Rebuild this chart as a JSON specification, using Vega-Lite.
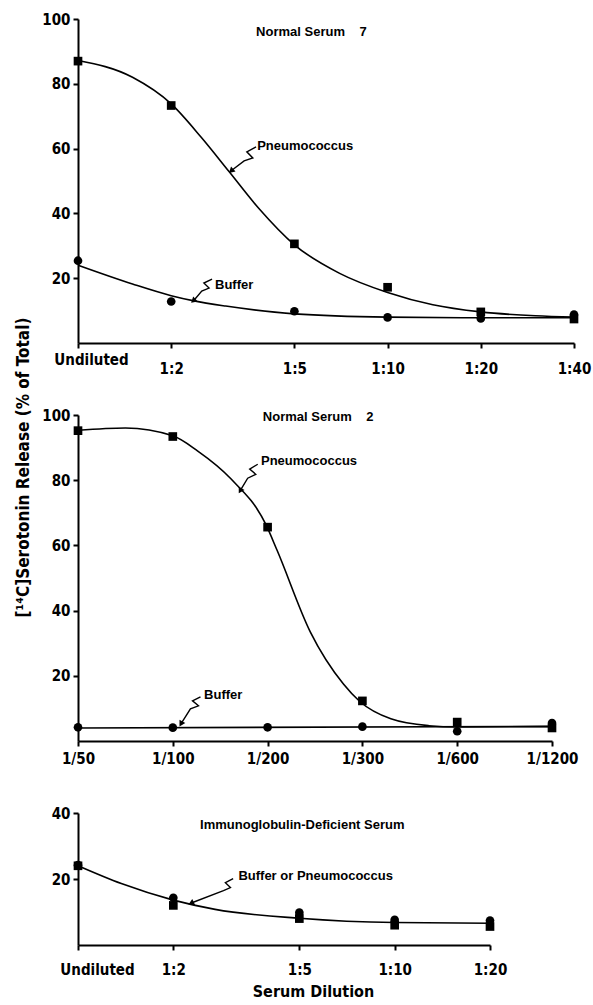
{
  "$schema": "https://vega.github.io/schema/vega-lite/v6.json",
  "padding": {"top": 12, "left": 13, "right": 5, "bottom": 3},
  "background": "white",
  "bounds": "flush",
  "spacing": 72,
  "config": {
    "view": {"stroke": null},
    "axis": {
      "domainColor": "black", "domainWidth": 2, "tickColor": "black", "tickWidth": 2, "tickSize": 5,
      "labelColor": "black", "labelFont": "DejaVu Sans Condensed, Liberation Sans Narrow, Liberation Sans", "labelFontWeight": "bold", "labelFontSize": 15,
      "labelOverlap": false, "labelFlush": false,
      "grid": false, "titleFont": "DejaVu Sans Condensed, Liberation Sans Narrow, Liberation Sans", "titleFontWeight": "bold", "titleColor": "black", "titleFontSize": 16
    }
  },
  "datasets": {
    "p1_points": [
      {"dilution": 1, "release": 87, "series": "Pneumococcus"},
      {"dilution": 2, "release": 73.3, "series": "Pneumococcus"},
      {"dilution": 5, "release": 30.6, "series": "Pneumococcus"},
      {"dilution": 10, "release": 17.2, "series": "Pneumococcus"},
      {"dilution": 20, "release": 9.6, "series": "Pneumococcus"},
      {"dilution": 40, "release": 7.4, "series": "Pneumococcus"},
      {"dilution": 1, "release": 25.4, "series": "Buffer"},
      {"dilution": 2, "release": 12.8, "series": "Buffer"},
      {"dilution": 5, "release": 9.8, "series": "Buffer"},
      {"dilution": 10, "release": 7.9, "series": "Buffer"},
      {"dilution": 20, "release": 7.6, "series": "Buffer"},
      {"dilution": 40, "release": 8.8, "series": "Buffer"}
    ],
    "p1_curves": [
      {"dilution": 1, "release": 87.2, "series": "Pneumococcus"},
      {"dilution": 1.5, "release": 82, "series": "Pneumococcus"},
      {"dilution": 2, "release": 73.8, "series": "Pneumococcus"},
      {"dilution": 2.5, "release": 63.5, "series": "Pneumococcus"},
      {"dilution": 3.07, "release": 53, "series": "Pneumococcus"},
      {"dilution": 3.84, "release": 41.5, "series": "Pneumococcus"},
      {"dilution": 5, "release": 30.3, "series": "Pneumococcus"},
      {"dilution": 7, "release": 21.5, "series": "Pneumococcus"},
      {"dilution": 10, "release": 15.6, "series": "Pneumococcus"},
      {"dilution": 14, "release": 11.8, "series": "Pneumococcus"},
      {"dilution": 20, "release": 9.6, "series": "Pneumococcus"},
      {"dilution": 30, "release": 8.4, "series": "Pneumococcus"},
      {"dilution": 40, "release": 8, "series": "Pneumococcus"},
      {"dilution": 1, "release": 24, "series": "Buffer"},
      {"dilution": 1.5, "release": 18.2, "series": "Buffer"},
      {"dilution": 2, "release": 14.6, "series": "Buffer"},
      {"dilution": 2.37, "release": 13, "series": "Buffer"},
      {"dilution": 3, "release": 11.4, "series": "Buffer"},
      {"dilution": 5, "release": 9, "series": "Buffer"},
      {"dilution": 10, "release": 8, "series": "Buffer"},
      {"dilution": 20, "release": 7.8, "series": "Buffer"},
      {"dilution": 40, "release": 7.8, "series": "Buffer"}
    ],
    "p1_labels": [
      {"dilution": 3.76, "release": 96, "label": "Normal Serum\u00a0\u00a0\u00a0\u00a07"},
      {"dilution": 3.79, "release": 60.8, "label": "Pneumococcus"},
      {"dilution": 2.77, "release": 17.8, "label": "Buffer"}
    ],
    "p1_arrows": [
      {"dilution": 3.76, "release": 60.5, "arrow": "a1", "order": 1},
      {"dilution": 3.51, "release": 59.0, "arrow": "a1", "order": 2},
      {"dilution": 3.67, "release": 57.1, "arrow": "a1", "order": 3},
      {"dilution": 3.44, "release": 56.2, "arrow": "a1", "order": 4},
      {"dilution": 3.14, "release": 53.3, "arrow": "a1", "order": 5},
      {"dilution": 2.71, "release": 19.75, "arrow": "a2", "order": 1},
      {"dilution": 2.55, "release": 18.5, "arrow": "a2", "order": 2},
      {"dilution": 2.65, "release": 16.96, "arrow": "a2", "order": 3},
      {"dilution": 2.51, "release": 16.0, "arrow": "a2", "order": 4},
      {"dilution": 2.37, "release": 13.2, "arrow": "a2", "order": 5}
    ],
    "p2_points": [
      {"dilution_step": 1, "release": 95.2, "series": "Pneumococcus"},
      {"dilution_step": 2, "release": 93.4, "series": "Pneumococcus"},
      {"dilution_step": 3, "release": 65.6, "series": "Pneumococcus"},
      {"dilution_step": 4, "release": 12.3, "series": "Pneumococcus"},
      {"dilution_step": 5, "release": 5.8, "series": "Pneumococcus"},
      {"dilution_step": 6, "release": 4, "series": "Pneumococcus"},
      {"dilution_step": 1, "release": 4.2, "series": "Buffer"},
      {"dilution_step": 2, "release": 4.1, "series": "Buffer"},
      {"dilution_step": 3, "release": 4.2, "series": "Buffer"},
      {"dilution_step": 4, "release": 4.4, "series": "Buffer"},
      {"dilution_step": 5, "release": 3, "series": "Buffer"},
      {"dilution_step": 6, "release": 5.5, "series": "Buffer"}
    ],
    "p2_curves": [
      {"dilution_step": 1, "release": 95.3, "series": "Pneumococcus"},
      {"dilution_step": 1.5, "release": 96, "series": "Pneumococcus"},
      {"dilution_step": 2, "release": 93.6, "series": "Pneumococcus"},
      {"dilution_step": 2.26, "release": 89, "series": "Pneumococcus"},
      {"dilution_step": 2.61, "release": 80.5, "series": "Pneumococcus"},
      {"dilution_step": 2.98, "release": 66.5, "series": "Pneumococcus"},
      {"dilution_step": 3.1, "release": 58.5, "series": "Pneumococcus"},
      {"dilution_step": 3.45, "release": 33.5, "series": "Pneumococcus"},
      {"dilution_step": 3.8, "release": 17.5, "series": "Pneumococcus"},
      {"dilution_step": 3.97, "release": 12.2, "series": "Pneumococcus"},
      {"dilution_step": 4.3, "release": 6.8, "series": "Pneumococcus"},
      {"dilution_step": 4.7, "release": 4.7, "series": "Pneumococcus"},
      {"dilution_step": 5, "release": 4.3, "series": "Pneumococcus"},
      {"dilution_step": 6, "release": 4.4, "series": "Pneumococcus"},
      {"dilution_step": 1, "release": 4.0, "series": "Buffer"},
      {"dilution_step": 6, "release": 4.5, "series": "Buffer"}
    ],
    "p2_labels": [
      {"dilution_step": 2.95, "release": 99.5, "label": "Normal Serum\u00a0\u00a0\u00a0\u00a02"},
      {"dilution_step": 2.93, "release": 85.8, "label": "Pneumococcus"},
      {"dilution_step": 2.33, "release": 14, "label": "Buffer"}
    ],
    "p2_arrows": [
      {"dilution_step": 2.896, "release": 84.9, "arrow": "a1", "order": 1},
      {"dilution_step": 2.811, "release": 83.4, "arrow": "a1", "order": 2},
      {"dilution_step": 2.875, "release": 81.8, "arrow": "a1", "order": 3},
      {"dilution_step": 2.79, "release": 80.6, "arrow": "a1", "order": 4},
      {"dilution_step": 2.716, "release": 77, "arrow": "a1", "order": 5},
      {"dilution_step": 2.292, "release": 13.5, "arrow": "a2", "order": 1},
      {"dilution_step": 2.208, "release": 12.3, "arrow": "a2", "order": 2},
      {"dilution_step": 2.271, "release": 10.8, "arrow": "a2", "order": 3},
      {"dilution_step": 2.186, "release": 9.85, "arrow": "a2", "order": 4},
      {"dilution_step": 2.091, "release": 5.5, "arrow": "a2", "order": 5}
    ],
    "p3_points": [
      {"dilution": 1, "release": 24.2, "series": "Buffer"},
      {"dilution": 2, "release": 14.3, "series": "Buffer"},
      {"dilution": 5, "release": 9.8, "series": "Buffer"},
      {"dilution": 10, "release": 7.6, "series": "Buffer"},
      {"dilution": 20, "release": 7.4, "series": "Buffer"},
      {"dilution": 1, "release": 24, "series": "Pneumococcus"},
      {"dilution": 2, "release": 12, "series": "Pneumococcus"},
      {"dilution": 5, "release": 8, "series": "Pneumococcus"},
      {"dilution": 10, "release": 6, "series": "Pneumococcus"},
      {"dilution": 20, "release": 5.6, "series": "Pneumococcus"}
    ],
    "p3_curves": [
      {"dilution": 1, "release": 24, "series": "Buffer or Pneumococcus"},
      {"dilution": 1.37, "release": 18.6, "series": "Buffer or Pneumococcus"},
      {"dilution": 2, "release": 13.6, "series": "Buffer or Pneumococcus"},
      {"dilution": 2.71, "release": 10.8, "series": "Buffer or Pneumococcus"},
      {"dilution": 5, "release": 8.1, "series": "Buffer or Pneumococcus"},
      {"dilution": 10, "release": 6.8, "series": "Buffer or Pneumococcus"},
      {"dilution": 20, "release": 6.6, "series": "Buffer or Pneumococcus"}
    ],
    "p3_labels": [
      {"dilution": 2.43, "release": 36.3, "label": "Immunoglobulin-Deficient Serum"},
      {"dilution": 3.21, "release": 21, "label": "Buffer or Pneumococcus"}
    ],
    "p3_arrows": [
      {"dilution": 3.09, "release": 20.1, "arrow": "a1", "order": 1},
      {"dilution": 2.92, "release": 18.9, "arrow": "a1", "order": 2},
      {"dilution": 3.03, "release": 17.4, "arrow": "a1", "order": 3},
      {"dilution": 2.88, "release": 16.5, "arrow": "a1", "order": 4},
      {"dilution": 2.29, "release": 12.8, "arrow": "a1", "order": 5}
    ]
  },
  "vconcat": [
    {
      "width": 496, "height": 324,
      "encoding": {
        "x": {"field": "dilution", "type": "quantitative", "scale": {"type": "log", "domain": [1, 40], "nice": false},
              "axis": {"title": null, "values": [1, 2, 5, 10, 20, 40], "labelExpr": "datum.value == 1 ? 'Undiluted' : '1:' + datum.value",
                       "labelPadding": {"condition": {"test": "datum.value == 1", "value": 4}, "value": 13},
                       "labelOffset": {"condition": {"test": "datum.value == 1", "value": 13}, "value": 0}}},
        "y": {"field": "release", "type": "quantitative", "scale": {"domain": [0, 100], "nice": false},
              "axis": {"title": null, "values": [20, 40, 60, 80, 100], "labelPadding": 3}}
      },
      "layer": [
        {"data": {"name": "p1_curves"}, "mark": {"type": "line", "interpolate": "monotone", "color": "black", "strokeWidth": 1.6},
         "encoding": {"detail": {"field": "series"}}},
        {"data": {"name": "p1_points"}, "mark": {"type": "point", "filled": true, "color": "black", "size": 75, "opacity": 1},
         "encoding": {"shape": {"field": "series", "type": "nominal", "scale": {"domain": ["Pneumococcus", "Buffer"], "range": ["square", "circle"]}, "legend": null}}},
        {"data": {"name": "p1_arrows"}, "mark": {"type": "line", "color": "black", "strokeWidth": 1.4},
         "encoding": {"detail": {"field": "arrow"}, "order": {"field": "order", "type": "quantitative"}}},
        {"data": {"name": "p1_arrows"}, "transform": [{"filter": "datum.order == 5"}],
         "mark": {"type": "point", "shape": "triangle", "filled": true, "color": "black", "size": 45, "angle": 228, "opacity": 1}},
        {"data": {"name": "p1_labels"}, "mark": {"type": "text", "align": "left", "baseline": "middle", "font": "Liberation Sans", "fontWeight": "bold", "fontSize": 13, "color": "black"},
         "encoding": {"text": {"field": "label"}}}
      ]
    },
    {
      "width": 474, "height": 326,
      "encoding": {
        "x": {"field": "dilution_step", "type": "quantitative", "scale": {"domain": [1, 6], "nice": false},
              "axis": {"title": null, "values": [1, 2, 3, 4, 5, 6], "labelExpr": "['1/50','1/100','1/200','1/300','1/600','1/1200'][datum.value - 1]", "labelPadding": 5}},
        "y": {"field": "release", "type": "quantitative", "scale": {"domain": [0, 100], "nice": false},
              "axis": {"title": "[¹⁴C]Serotonin Release (% of Total)", "titleFontSize": 17, "titleAngle": -90, "titleX": -55, "titleY": 52, "titleAlign": "center", "titleBaseline": "middle",
                       "values": [20, 40, 60, 80, 100], "labelPadding": 3}}
      },
      "layer": [
        {"data": {"name": "p2_curves"}, "mark": {"type": "line", "interpolate": "monotone", "color": "black", "strokeWidth": 1.6},
         "encoding": {"detail": {"field": "series"}}},
        {"data": {"name": "p2_points"}, "mark": {"type": "point", "filled": true, "color": "black", "size": 75, "opacity": 1},
         "encoding": {"shape": {"field": "series", "type": "nominal", "scale": {"domain": ["Pneumococcus", "Buffer"], "range": ["square", "circle"]}, "legend": null}}},
        {"data": {"name": "p2_arrows"}, "mark": {"type": "line", "color": "black", "strokeWidth": 1.4},
         "encoding": {"detail": {"field": "arrow"}, "order": {"field": "order", "type": "quantitative"}}},
        {"data": {"name": "p2_arrows"}, "transform": [{"filter": "datum.order == 5"}],
         "mark": {"type": "point", "shape": "triangle", "filled": true, "color": "black", "size": 45, "angle": 210, "opacity": 1}},
        {"data": {"name": "p2_labels"}, "mark": {"type": "text", "align": "left", "baseline": "middle", "font": "Liberation Sans", "fontWeight": "bold", "fontSize": 13, "color": "black"},
         "encoding": {"text": {"field": "label"}}}
      ]
    },
    {
      "width": 412, "height": 132,
      "encoding": {
        "x": {"field": "dilution", "type": "quantitative", "scale": {"type": "log", "domain": [1, 20], "nice": false},
              "axis": {"title": "Serum Dilution", "titleX": 235, "titleAlign": "center", "titlePadding": 6, "values": [1, 2, 5, 10, 20], "labelExpr": "datum.value == 1 ? 'Undiluted' : '1:' + datum.value",
                       "labelPadding": 12,
                       "labelOffset": {"condition": {"test": "datum.value == 1", "value": 19}, "value": 0}}},
        "y": {"field": "release", "type": "quantitative", "scale": {"domain": [0, 40], "nice": false},
              "axis": {"title": null, "values": [20, 40], "labelPadding": 3}}
      },
      "layer": [
        {"data": {"name": "p3_curves"}, "mark": {"type": "line", "interpolate": "monotone", "color": "black", "strokeWidth": 1.6},
         "encoding": {"detail": {"field": "series"}}},
        {"data": {"name": "p3_points"}, "mark": {"type": "point", "filled": true, "color": "black", "size": 75, "opacity": 1},
         "encoding": {"shape": {"field": "series", "type": "nominal", "scale": {"domain": ["Pneumococcus", "Buffer"], "range": ["square", "circle"]}, "legend": null}}},
        {"data": {"name": "p3_arrows"}, "mark": {"type": "line", "color": "black", "strokeWidth": 1.4},
         "encoding": {"detail": {"field": "arrow"}, "order": {"field": "order", "type": "quantitative"}}},
        {"data": {"name": "p3_arrows"}, "transform": [{"filter": "datum.order == 5"}],
         "mark": {"type": "point", "shape": "triangle", "filled": true, "color": "black", "size": 45, "angle": 245, "opacity": 1}},
        {"data": {"name": "p3_labels"}, "mark": {"type": "text", "align": "left", "baseline": "middle", "font": "Liberation Sans", "fontWeight": "bold", "fontSize": 13, "color": "black"},
         "encoding": {"text": {"field": "label"}}}
      ]
    }
  ]
}
